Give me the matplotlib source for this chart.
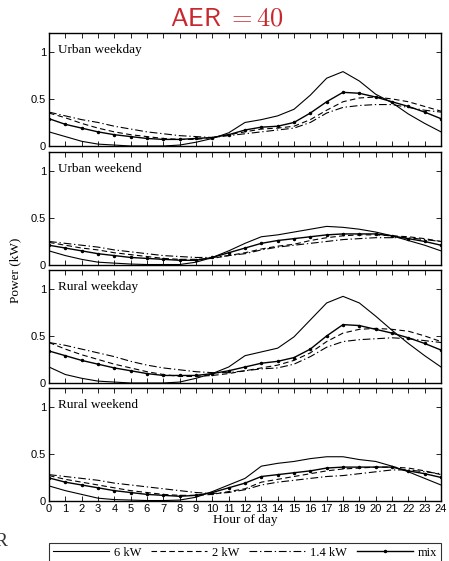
import matplotlib
matplotlib.use("Agg")
import matplotlib.pyplot as plt

# Horas del día (0-24)
horas = list(range(25))

# Urbano, día laborable
uwd_6kw = [0.15, 0.10, 0.05, 0.02, 0.01, 0.0, 0.0, 0.0, 0.01, 0.04, 0.08, 0.14, 0.25, 0.28, 0.32,
           0.39, 0.54, 0.72, 0.79, 0.69, 0.55, 0.46, 0.34, 0.24, 0.15]
uwd_2kw = [0.35, 0.30, 0.24, 0.19, 0.15, 0.12, 0.10, 0.08, 0.07, 0.07, 0.09, 0.12, 0.15, 0.18, 0.19,
           0.21, 0.28, 0.38, 0.47, 0.51, 0.52, 0.50, 0.47, 0.42, 0.37]
uwd_14kw = [0.36, 0.32, 0.28, 0.25, 0.21, 0.18, 0.15, 0.13, 0.11, 0.10, 0.09, 0.11, 0.13, 0.15, 0.17,
            0.19, 0.25, 0.35, 0.41, 0.43, 0.44, 0.44, 0.41, 0.38, 0.36]
uwd_mix = [0.29, 0.23, 0.19, 0.15, 0.12, 0.10, 0.08, 0.07, 0.07, 0.08, 0.09, 0.12, 0.17, 0.20, 0.21,
           0.25, 0.35, 0.47, 0.57, 0.56, 0.52, 0.47, 0.42, 0.36, 0.29]

# Urbano, fin de semana
uwe_6kw = [0.15, 0.10, 0.06, 0.03, 0.02, 0.01, 0.005, 0.005, 0.005, 0.03, 0.08, 0.15, 0.23, 0.30, 0.32,
           0.35, 0.38, 0.41, 0.40, 0.38, 0.35, 0.31, 0.26, 0.21, 0.15]
uwe_2kw = [0.24, 0.21, 0.18, 0.16, 0.13, 0.11, 0.09, 0.07, 0.06, 0.06, 0.07, 0.10, 0.13, 0.17, 0.20,
           0.22, 0.26, 0.29, 0.31, 0.32, 0.32, 0.31, 0.30, 0.28, 0.25]
uwe_14kw = [0.25, 0.23, 0.21, 0.19, 0.16, 0.14, 0.12, 0.10, 0.09, 0.08, 0.08, 0.10, 0.12, 0.16, 0.19,
            0.21, 0.23, 0.25, 0.27, 0.28, 0.29, 0.29, 0.29, 0.27, 0.25]
uwe_mix = [0.21, 0.18, 0.15, 0.12, 0.10, 0.08, 0.07, 0.06, 0.05, 0.05, 0.08, 0.13, 0.18, 0.23, 0.26,
           0.28, 0.30, 0.32, 0.33, 0.33, 0.33, 0.31, 0.28, 0.25, 0.21]

# Rural, día laborable
rwd_6kw = [0.17, 0.09, 0.05, 0.02, 0.01, 0.0, 0.0, 0.0, 0.01, 0.05, 0.10, 0.17, 0.29, 0.33, 0.37,
           0.49, 0.67, 0.85, 0.92, 0.85, 0.71, 0.56, 0.42, 0.29, 0.17]
rwd_2kw = [0.43, 0.36, 0.30, 0.25, 0.20, 0.16, 0.12, 0.09, 0.07, 0.07, 0.08, 0.10, 0.13, 0.16, 0.19,
           0.24, 0.32, 0.44, 0.53, 0.57, 0.58, 0.57, 0.55, 0.50, 0.44]
rwd_14kw = [0.43, 0.40, 0.36, 0.32, 0.28, 0.23, 0.19, 0.16, 0.14, 0.12, 0.11, 0.11, 0.13, 0.15, 0.16,
            0.20, 0.28, 0.38, 0.44, 0.46, 0.47, 0.48, 0.47, 0.45, 0.43]
rwd_mix = [0.34, 0.29, 0.24, 0.20, 0.16, 0.13, 0.10, 0.08, 0.08, 0.08, 0.10, 0.13, 0.17, 0.21, 0.23,
           0.27, 0.36, 0.50, 0.62, 0.61, 0.57, 0.53, 0.48, 0.42, 0.35]

# Rural, fin de semana
rwe_6kw = [0.16, 0.11, 0.07, 0.03, 0.015, 0.01, 0.005, 0.005, 0.01, 0.04, 0.10, 0.17, 0.24, 0.37, 0.40,
           0.42, 0.45, 0.47, 0.47, 0.44, 0.42, 0.37, 0.31, 0.24, 0.17]
rwe_2kw = [0.27, 0.23, 0.20, 0.17, 0.14, 0.11, 0.09, 0.07, 0.06, 0.06, 0.07, 0.10, 0.13, 0.20, 0.23,
           0.26, 0.29, 0.32, 0.34, 0.35, 0.36, 0.36, 0.35, 0.32, 0.28]
rwe_14kw = [0.28, 0.26, 0.24, 0.22, 0.19, 0.17, 0.15, 0.13, 0.11, 0.09, 0.08, 0.09, 0.12, 0.17, 0.20,
            0.22, 0.24, 0.26, 0.27, 0.29, 0.31, 0.33, 0.33, 0.31, 0.29]
rwe_mix = [0.245, 0.20, 0.17, 0.14, 0.11, 0.09, 0.07, 0.06, 0.05, 0.06, 0.09, 0.14, 0.19, 0.26, 0.28,
           0.30, 0.32, 0.35, 0.36, 0.36, 0.36, 0.36, 0.32, 0.29, 0.25]

paneles = ["Urban weekday", "Urban weekend", "Rural weekday", "Rural weekend"]
series = [
    (uwd_6kw, uwd_2kw, uwd_14kw, uwd_mix),
    (uwe_6kw, uwe_2kw, uwe_14kw, uwe_mix),
    (rwd_6kw, rwd_2kw, rwd_14kw, rwd_mix),
    (rwe_6kw, rwe_2kw, rwe_14kw, rwe_mix),
]
etiquetas = ["6 kW", "2 kW", "1.4 kW", "mix"]

plt.rcParams["mathtext.fontset"] = "cm"
serif = "Liberation Serif"
sans = "Liberation Sans"

fig = plt.figure(figsize=(4.49, 5.61), dpi=100)
izq, ancho = 49 / 449, (441 - 49) / 449
tops = [33, 152, 270, 388]
alto_px = 113

lineas = []
for i, (nombre, (s6, s2, s14, smix)) in enumerate(zip(paneles, series)):
    ax = fig.add_axes([izq, 1 - (tops[i] + alto_px) / 561, ancho, alto_px / 561])
    l1, = ax.plot(horas, s6, color="k", lw=0.8, ls="-")
    l2, = ax.plot(horas, s2, color="k", lw=0.8, dashes=(5, 3))
    l3, = ax.plot(horas, s14, color="k", lw=0.8, dashes=(7, 2.5, 1.2, 2.5))
    l4, = ax.plot(horas, smix, color="k", lw=1.0, marker="o", ms=1.5)
    lineas = [l1, l2, l3, l4]
    ax.set_xlim(0, 24)
    ax.set_ylim(0, 1.2)
    ax.set_xticks(range(25))
    ax.set_yticks([0, 0.5, 1])
    ax.set_yticklabels(["0", "0.5", "1"], fontfamily=sans, fontsize=8)
    ax.tick_params(direction="in", top=True, right=True, length=3.5, width=0.6, pad=2)
    if i < 3:
        ax.set_xticklabels([])
    else:
        ax.set_xticklabels([str(h) for h in range(25)], fontfamily=sans, fontsize=8)
        ax.set_xlabel("Hour of day", fontfamily=serif, fontsize=9.5, labelpad=0)
    for sp in ax.spines.values():
        sp.set_linewidth(1.0)
    ax.text(0.022, 0.82, nombre, transform=ax.transAxes, fontfamily=serif, fontsize=9.5)

fig.text(0.033, 1 - 270 / 561, "Power (kW)", rotation=90, ha="center", va="center",
         fontfamily=serif, fontsize=9.5)
fig.text(227 / 449, 1 - 18 / 561, r"$\mathsf{AER}\;=40$", color="#c8282d",
         ha="center", va="center", fontsize=19)
fig.text(-0.012, 1 - 542 / 561, "R", fontfamily=serif, fontsize=14, ha="left", va="center",
         color="#333333")

leg = fig.legend(lineas, etiquetas, loc="upper left",
                 bbox_to_anchor=(izq, 1 - 543 / 561, ancho, 0), borderaxespad=0,
                 mode="expand", ncol=4, frameon=True, fancybox=False, edgecolor="k",
                 prop={"family": serif, "size": 9}, handlelength=4.5, borderpad=0.3,
                 columnspacing=1.0, handletextpad=0.4)
leg.get_frame().set_linewidth(0.8)

fig.savefig("out.png", dpi=100)
